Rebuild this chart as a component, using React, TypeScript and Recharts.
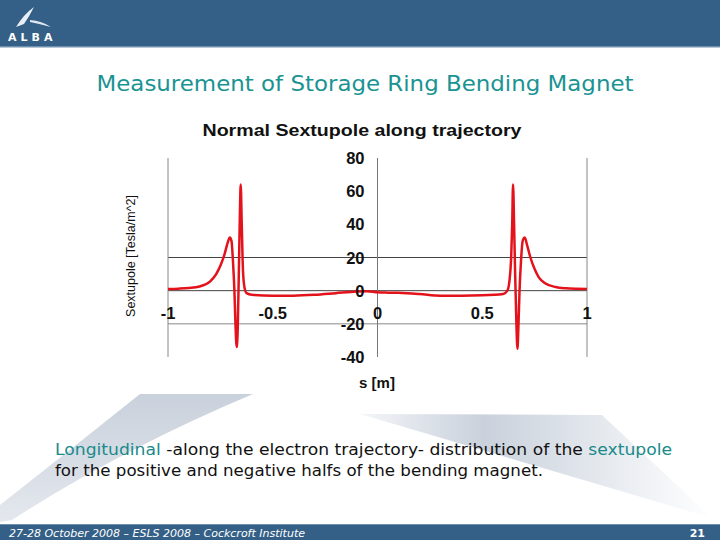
import { LineChart, Line, XAxis, YAxis, ReferenceLine } from "recharts";

// position along the trajectory [m]
const sPos = [
  -1.0, -0.95, -0.9, -0.85, -0.8, -0.77, -0.75, -0.73, -0.715, -0.705, -0.697, -0.69, -0.683, -0.678, -0.672,
  -0.667, -0.662, -0.657, -0.653, -0.648, -0.642, -0.635, -0.625, -0.6, -0.5, -0.4, -0.3, -0.2, -0.1, -0.05,
  0.0, 0.05, 0.1, 0.2, 0.3, 0.4, 0.5, 0.6, 0.62, 0.63, 0.638, 0.643, 0.647, 0.652, 0.657, 0.662, 0.668, 0.673,
  0.678, 0.685, 0.693, 0.703, 0.715, 0.73, 0.75, 0.77, 0.8, 0.85, 0.9, 0.95, 1.0,
];
// normal sextupole [Tesla/m^2]
const sextupole = [
  1.0, 1.2, 1.6, 2.5, 5.5, 10, 15, 22, 29, 32, 30, 18, 0, -20, -34,
  -22, 10, 45, 64, 40, 12, 2, -1.5, -2.5, -3, -3, -2.5, -1.5, -0.5, -0.3,
  -1, -1.2, -1.3, -2, -3, -3, -2.8, -2, 0, 6, 20, 40, 64, 40, 10, -15, -35, -20,
  0, 18, 30, 32, 27, 20, 13, 8, 4.5, 2.2, 1.4, 1.1, 1.0,
];
const xTicks = [-1, -0.5, 0, 0.5, 1];
const yTicks = [-40, -20, 0, 20, 40, 60, 80];
const gridY = [20, 0, -20];
const gridX = [-1, 1];

const data = sPos.map((s, i) => ({ s, v: sextupole[i] }));

const CW = 560;
const CH = 300;
const M = { top: 48, left: 48, right: 73, bottom: 33 };
const halfPlot = (CW - M.left - 20 - M.right) / 2;

const XTick = (p: any) => (
  <text x={p.x} y={p.y - 44} textAnchor="middle" dominantBaseline="central"
    fontFamily="Liberation Sans, Arial" fontWeight="bold" fontSize={16.5} fill="#111">
    {p.payload.value}
  </text>
);

const YTick = (p: any) => (
  <text x={p.x + halfPlot - 13} y={p.y} textAnchor="end" dominantBaseline="central"
    fontFamily="Liberation Sans, Arial" fontWeight="bold" fontSize={16.5} fill="#111">
    {p.payload.value}
  </text>
);

export default function App() {
  return (
    <div style={{ position: "absolute", left: 0, top: 0, width: 720, height: 540, background: "#fff", overflow: "hidden" }}>
      {/* slide background */}
      <svg width={720} height={540} style={{ position: "absolute", left: 0, top: 0 }}>
        <defs>
          <linearGradient id="wedge" x1="0" y1="0" x2="1" y2="0">
            <stop offset="0" stopColor="#c9d1dc" stopOpacity="0.2" />
            <stop offset="0.35" stopColor="#c9d1dc" />
            <stop offset="1" stopColor="#ffffff" />
          </linearGradient>
          <linearGradient id="swoosh" x1="0" y1="0" x2="0" y2="1">
            <stop offset="0" stopColor="#c9d1dc" />
            <stop offset="1" stopColor="#e4e8ee" />
          </linearGradient>
        </defs>
        <rect x={0} y={0} width={720} height={46} fill="#345f86" />
        <rect x={0} y={46} width={720} height={1.5} fill="#6f8fae" />
        <path d="M16,27 Q24,14 34,7 Q29,17 24,24 Z" fill="#e8eff6" />
        <path d="M30,20 Q42,21 51,27 Q40,24 30,22 Z" fill="#dfe8f1" />
        <text x={8} y={41} fill="#fff" fontFamily="DejaVu Sans, sans-serif" fontWeight="bold" fontSize={11} letterSpacing={4}>ALBA</text>
        <path d="M140,394 L253,394 Q120,450 12,520 L0,522 L0,505 Q70,450 140,394 Z" fill="url(#swoosh)" />
        <path d="M360,414 L602,415 L712,518 Z" fill="url(#wedge)" />
        <rect x={0} y={524} width={720} height={1.5} fill="#6f8fae" />
        <rect x={0} y={525} width={720} height={15} fill="#345f86" />
      </svg>

      <div style={{ position: "absolute", left: 100, top: 110 }}>
        <LineChart width={CW} height={CH} data={data} margin={M}>
          <XAxis dataKey="s" type="number" domain={[-1, 1]} ticks={xTicks} height={20}
            axisLine={false} tickLine={false} tickSize={0} tickMargin={0} tick={XTick} interval={0} />
          <YAxis type="number" domain={[-40, 80]} ticks={yTicks} width={20}
            axisLine={false} tickLine={false} tickSize={0} tickMargin={0} tick={YTick} interval={0} />
          {gridY.map((g) => (
            <ReferenceLine key={"h" + g} y={g} stroke={g === -20 ? "#888" : "#444"} strokeWidth={1} />
          ))}
          {gridX.map((g) => (
            <ReferenceLine key={"v" + g} x={g} stroke="#888" strokeWidth={1} />
          ))}
          <ReferenceLine x={0} stroke="#777" strokeWidth={1} />
          <Line type="monotone" dataKey="v" stroke="#e3121b" strokeWidth={2.5} dot={false} isAnimationActive={false} />
        </LineChart>
      </div>

      <svg width={720} height={540} style={{ position: "absolute", left: 0, top: 0, pointerEvents: "none" }}>
        <text x={365} y={84} textAnchor="middle" dominantBaseline="central" fill="#1a9393"
          fontFamily="DejaVu Sans, sans-serif" fontSize={21} textLength={537} lengthAdjust="spacingAndGlyphs">
          Measurement of Storage Ring Bending Magnet
        </text>
        <text x={362} y={130} textAnchor="middle" dominantBaseline="central" fill="#111"
          fontFamily="Liberation Sans, Arial" fontWeight="bold" fontSize={16} textLength={319} lengthAdjust="spacingAndGlyphs">
          Normal Sextupole along trajectory
        </text>
        <text x={0} y={0} transform="translate(131,256) rotate(-90)" textAnchor="middle" dominantBaseline="central"
          fill="#111" fontFamily="Liberation Sans, Arial" fontSize={12.5}>
          Sextupole [Tesla/m^2]
        </text>
        <text x={377} y={382} textAnchor="middle" dominantBaseline="central" fill="#111"
          fontFamily="Liberation Sans, Arial" fontWeight="bold" fontSize={15}>
          s [m]
        </text>
        <text x={55} y={450} dominantBaseline="central" fontFamily="DejaVu Sans, sans-serif" fontSize={15}
          fill="#111" textLength={617} lengthAdjust="spacingAndGlyphs">
          <tspan fill="#1a8a8a">Longitudinal</tspan> -along the electron trajectory- distribution of the <tspan fill="#1a8a8a">sextupole</tspan>
        </text>
        <text x={55} y={471} dominantBaseline="central" fontFamily="DejaVu Sans, sans-serif" fontSize={15}
          fill="#111" textLength={488} lengthAdjust="spacingAndGlyphs">
          for the positive and negative halfs of the bending magnet.
        </text>
        <text x={9} y={533} dominantBaseline="central" fontFamily="DejaVu Sans, sans-serif" fontStyle="italic"
          fontSize={11} fill="#fff">
          27-28 October 2008 – ESLS 2008 – Cockcroft Institute
        </text>
        <text x={705} y={533} textAnchor="end" dominantBaseline="central" fontFamily="DejaVu Sans, sans-serif"
          fontWeight="bold" fontSize={11} fill="#fff">
          21
        </text>
      </svg>
    </div>
  );
}
